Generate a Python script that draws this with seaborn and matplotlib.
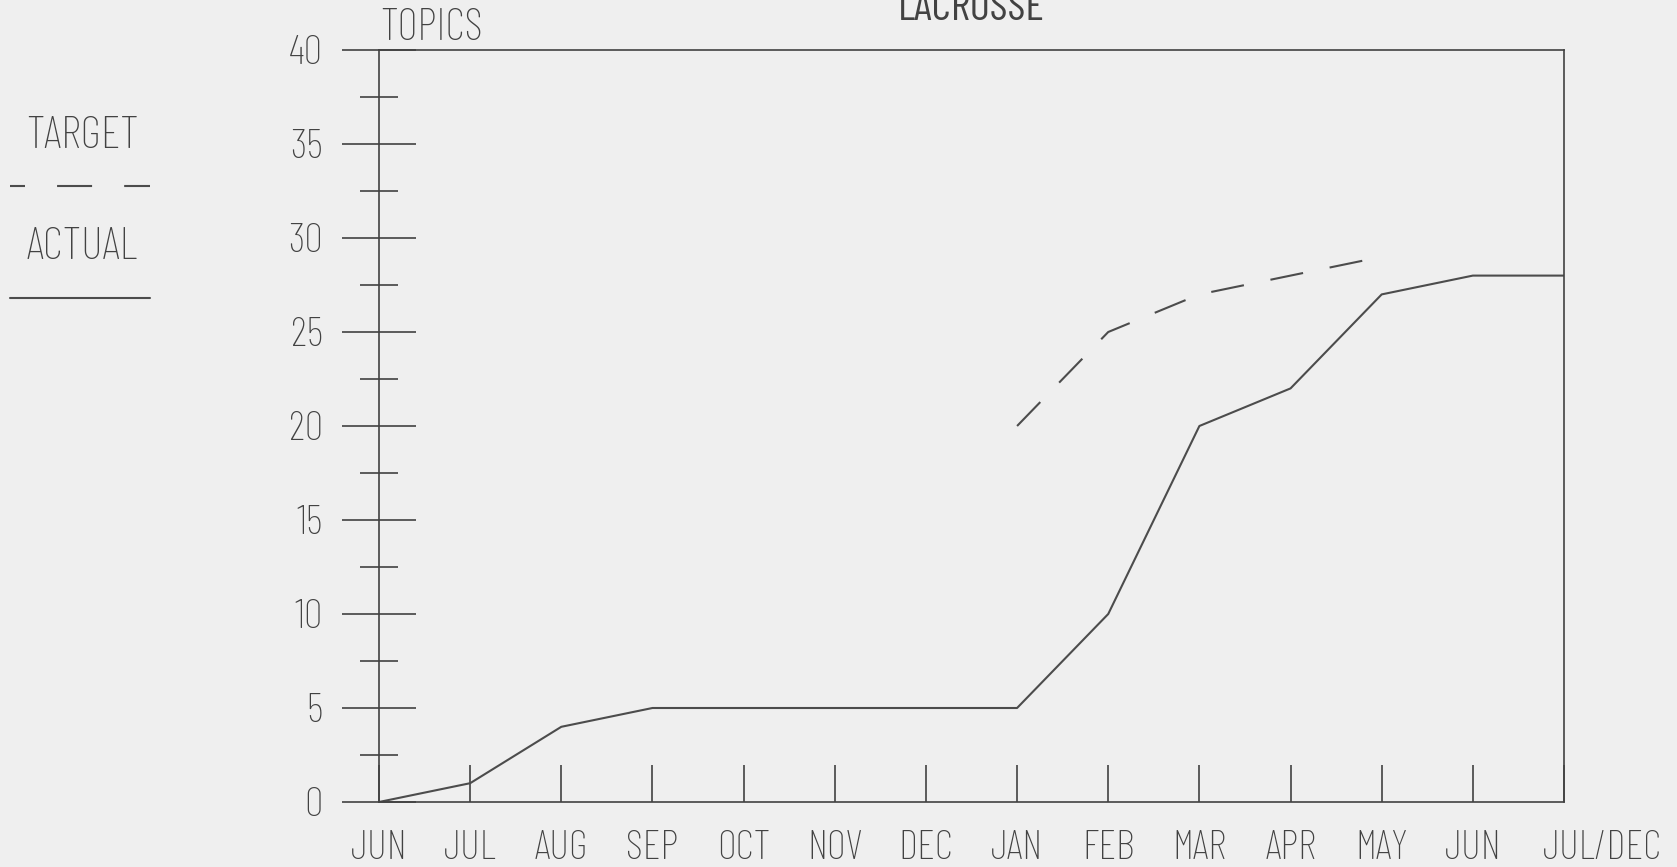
import numpy as np
import pandas as pd
import seaborn as sns
import matplotlib.pyplot as plt
from matplotlib.lines import Line2D
from matplotlib.ticker import MultipleLocator
from matplotlib.transforms import ScaledTranslation

months = ["JUN", "JUL", "AUG", "SEP", "OCT", "NOV", "DEC",
          "JAN", "FEB", "MAR", "APR", "MAY", "JUN", "JUL/DEC"]
actual = [0, 1, 4, 5, 5, 5, 5, 5, 10, 20, 22, 27, 28, 28]
target_months = ["JAN", "FEB", "MAR", "APR", "MAY"]
target = [20, 25, 27, 28, 29]

ink = "#424242"
pen = "#4c4c4c"
paper = "#efefef"

sns.set_theme(style="white")
plt.rcParams["font.family"] = ["Barlow Condensed", "DejaVu Sans"]
plt.rcParams["font.weight"] = "light"
plt.rcParams["text.color"] = ink

pos = np.arange(len(months))
df_actual = pd.DataFrame({"pos": pos, "topics": actual})
start = months.index(target_months[0])
df_target = pd.DataFrame({"pos": np.arange(start, start + len(target)), "topics": target})

fig = plt.figure(figsize=(16.77, 8.67), dpi=100, facecolor=paper)
ax = fig.add_axes([379 / 1677, 1 - 802 / 867, 1185 / 1677, 752 / 867])
ax.set_facecolor(paper)

sns.lineplot(data=df_actual, x="pos", y="topics", ax=ax, color=pen, linewidth=1.5)
sns.lineplot(data=df_target, x="pos", y="topics", ax=ax, color=pen, linewidth=1.5)
ax.lines[-1].set_dashes((16, 13))

ax.set_xlim(0, len(months) - 1)
ax.set_ylim(0, 40)
ax.set_xticks(pos)
ax.set_xticklabels(months)
ax.yaxis.set_major_locator(MultipleLocator(5))
ax.yaxis.set_minor_locator(MultipleLocator(2.5))
ax.set_xlabel("")
ax.set_ylabel("")

ax.tick_params(axis="x", bottom=True, direction="in", length=26.6, width=1.2, color=ink,
               labelsize=30, labelcolor=ink, pad=20)
ax.tick_params(axis="y", which="major", left=True, direction="inout", length=53, width=1.2,
               color=ink, labelsize=30, labelcolor=ink, pad=14)
ax.tick_params(axis="y", which="minor", left=True, direction="inout", length=27, width=1.2,
               color=ink)
for s in ax.spines.values():
    s.set_color(ink)
    s.set_linewidth(1.2)

# the last month label sits to the right of the frame corner
last = ax.get_xticklabels()[-1]
last.set_transform(last.get_transform() + ScaledTranslation(0.39, 0, fig.dpi_scale_trans))

ax.annotate("TOPICS", xy=(0, 1), xycoords="axes fraction", xytext=(1, 7.2),
            textcoords="offset points", ha="left", va="baseline", fontsize=32, color=ink)
ax.set_title("LACROSSE", fontsize=31, color=ink, pad=21.6)

# hand-drawn key on the left
fig.text(82 / 1677, 1 - 137 / 867, "TARGET", ha="center", va="center", fontsize=33, color=ink)
fig.add_artist(Line2D([10 / 1677, 150 / 1677], [1 - 186 / 867] * 2, transform=fig.transFigure,
                      color=pen, linewidth=1.5, linestyle=(9.6, (16.8, 15.4))))
fig.text(82 / 1677, 1 - 247 / 867, "ACTUAL", ha="center", va="center", fontsize=33, color=ink)
fig.add_artist(Line2D([10 / 1677, 150 / 1677], [1 - 298 / 867] * 2, transform=fig.transFigure,
                      color=pen, linewidth=1.5))

fig.savefig("out.png", dpi=100, facecolor=paper)
